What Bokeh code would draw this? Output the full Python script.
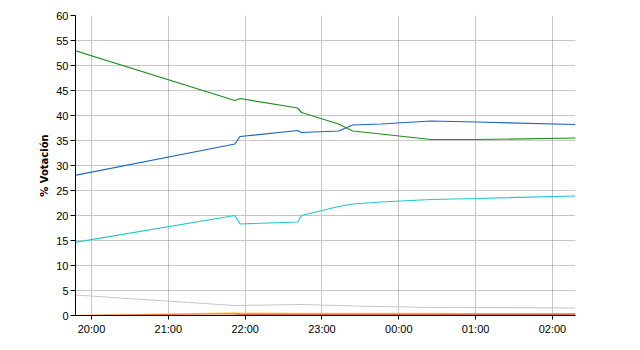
from bokeh.plotting import figure
from bokeh.models import FixedTicker, Grid, Range1d
from bokeh.embed import file_html
from bokeh.resources import INLINE

# Timeline (clock times of the samples)
times = ["19:47", "21:52", "21:56", "22:41", "22:44", "23:13",
         "23:24", "23:46", "00:25", "01:01", "02:18"]

# % vote per series at those times
green = [53.0, 43.0, 43.4, 41.5, 40.6, 38.3, 36.9, 36.3, 35.2, 35.2, 35.5]
blue = [28.0, 34.3, 35.8, 37.0, 36.6, 36.9, 38.1, 38.3, 38.9, 38.7, 38.2]
cyan = [14.6, 20.0, 18.3, 18.7, 20.0, 21.8, 22.3, 22.7, 23.2, 23.4, 23.9]
gray = [4.1, 2.0, 2.0, 2.2, 2.2, 2.0, 1.9, 1.8, 1.6, 1.6, 1.5]
yellow = [0.0, 0.55, 0.5, 0.45, 0.45, 0.45, 0.45, 0.45, 0.45, 0.4, 0.4]
orange = [0.0, 0.4, 0.35, 0.35, 0.35, 0.35, 0.35, 0.35, 0.35, 0.35, 0.35]
red = [0.0, 0.1, 0.15, 0.15, 0.15, 0.15, 0.15, 0.15, 0.15, 0.15, 0.15]

tick_labels = ["20:00", "21:00", "22:00", "23:00", "00:00", "01:00", "02:00"]
y_ticks = list(range(0, 61, 5))


def to_hours(s):
    h, m = s.split(":")
    h = int(h)
    if h < 12:
        h += 24
    return h - 20 + int(m) / 60.0


x = [to_hours(t) for t in times]
tick_pos = [to_hours(t) for t in tick_labels]
x_start = -12.5 / 60.0
x_end = to_hours("02:18")

p = figure(width=640, height=350, output_backend="svg", toolbar_location=None,
           x_range=Range1d(x_start, x_end), y_range=Range1d(0, 60),
           min_border_left=75, min_border_right=65, min_border_top=15,
           min_border_bottom=35)
p.outline_line_color = None
p.background_fill_color = "white"
p.border_fill_color = "white"

p.xgrid.grid_line_color = None
p.ygrid.grid_line_color = None

# y grid: solid light at odd fives, dotted at tens
p.add_layout(Grid(dimension=1, ticker=FixedTicker(ticks=[v for v in y_ticks if v % 10 == 5]),
                  grid_line_color="#c8c8c8", grid_line_width=1))
p.add_layout(Grid(dimension=1, ticker=FixedTicker(ticks=[v for v in y_ticks if v % 10 == 0 and v > 0]),
                  grid_line_color="#8c8c8c", grid_line_width=1, grid_line_dash="1 1"))
# x grid
solid_x = [tick_pos[i] for i in (0, 2, 3, 5)] + [x_end]
dotted_x = [tick_pos[i] for i in (1, 4, 6)]
p.add_layout(Grid(dimension=0, ticker=FixedTicker(ticks=solid_x),
                  grid_line_color="#c8c8c8", grid_line_width=1))
p.add_layout(Grid(dimension=0, ticker=FixedTicker(ticks=dotted_x),
                  grid_line_color="#8c8c8c", grid_line_width=1, grid_line_dash="1 1"))

lw = 1.2
p.line(x, gray, line_color="#c8c8c8", line_width=lw)
p.line(x, yellow, line_color="#ffd24d", line_width=lw)
p.line(x, orange, line_color="#ff8c1a", line_width=lw)
p.line(x, red, line_color="#e8401a", line_width=lw)
p.line(x, cyan, line_color="#1ec8d2", line_width=lw)
p.line(x, blue, line_color="#1a66c0", line_width=lw)
p.line(x, green, line_color="#1f8f1f", line_width=lw)

# axes
p.yaxis.ticker = FixedTicker(ticks=y_ticks)
p.yaxis.minor_tick_line_color = None
p.yaxis.major_tick_out = 5
p.yaxis.major_tick_in = 0
p.yaxis.axis_line_color = "black"
p.yaxis.major_tick_line_color = "black"
p.yaxis.major_label_text_font = "Liberation Sans"
p.yaxis.major_label_text_font_size = "11px"
p.yaxis.major_label_text_color = "black"
p.yaxis.major_label_standoff = 2
p.yaxis.axis_label = "% Votación"
p.yaxis.axis_label_text_font = "DejaVu Sans"
p.yaxis.axis_label_text_font_style = "bold"
p.yaxis.axis_label_text_font_size = "10px"
p.yaxis.axis_label_text_color = "black"
p.yaxis.axis_label_standoff = 3

p.xaxis.ticker = FixedTicker(ticks=tick_pos)
p.xaxis.major_label_overrides = {tp: lab for tp, lab in zip(tick_pos, tick_labels)}
p.xaxis.minor_tick_line_color = None
p.xaxis.major_tick_out = 4
p.xaxis.major_tick_in = 0
p.xaxis.axis_line_color = "black"
p.xaxis.major_tick_line_color = "black"
p.xaxis.major_label_text_font = "Liberation Sans"
p.xaxis.major_label_text_font_size = "11px"
p.xaxis.major_label_text_color = "black"
p.xaxis.major_label_standoff = 3

open("out.html", "w").write(file_html(p, INLINE))
